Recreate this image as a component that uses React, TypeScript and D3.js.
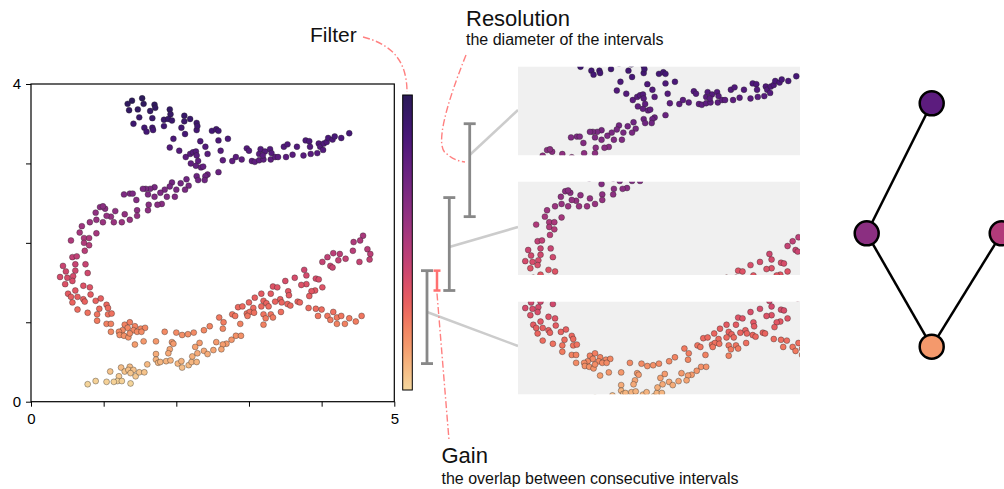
import React, { useEffect, useRef } from 'react';
import * as d3 from 'd3';

type Pt = [number, number];

// point cloud (x, y); the filter is the y value
const topLobe: Pt[] = [
  [1.39, 3.79], [1.53, 3.82], [1.33, 3.75], [1.55, 3.75], [1.7, 3.74], [1.71, 3.7], [1.35, 3.67], [1.47, 3.68],
  [1.64, 3.66], [1.91, 3.68], [1.92, 3.62], [1.49, 3.58], [1.67, 3.57], [1.83, 3.55], [1.89, 3.56], [1.94, 3.54],
  [2.11, 3.6], [2.19, 3.56], [2.11, 3.53], [2.28, 3.51], [1.41, 3.5], [1.56, 3.45], [1.59, 3.4], [1.67, 3.45],
  [1.68, 3.42], [1.83, 3.47], [2.07, 3.45], [2.28, 3.42], [2.29, 3.47], [2.12, 3.37], [1.96, 3.31], [2.33, 3.28],
  [1.91, 3.2], [2.04, 3.16], [2.4, 3.21], [2.43, 3.12], [2.13, 3.08], [2.19, 3.12], [2.23, 3.14], [2.27, 3.15],
  [2.28, 3.1], [2.3, 3.03], [2.2, 3.0], [2.27, 2.97], [2.34, 2.95], [2.37, 2.96],
];

const upperBend: Pt[] = [
  [2.43, 2.86], [2.4, 2.84], [2.28, 2.84], [2.3, 2.79], [2.39, 2.79], [2.14, 2.8], [2.06, 2.75], [1.94, 2.76],
  [2.17, 2.72], [2.12, 2.67], [2.0, 2.67], [1.91, 2.71], [1.84, 2.67], [1.78, 2.63], [1.7, 2.7], [1.64, 2.68],
  [1.58, 2.68], [1.54, 2.68], [1.61, 2.61], [1.7, 2.58], [1.87, 2.58], [1.98, 2.58], [1.36, 2.62], [1.4, 2.62],
  [1.28, 2.61], [1.45, 2.54], [1.8, 2.49], [1.74, 2.48], [1.62, 2.48], [1.61, 2.41], [1.46, 2.41], [1.46, 2.34],
  [1.36, 2.29], [1.29, 2.36], [1.25, 2.26], [1.14, 2.26], [1.16, 2.4], [1.1, 2.33], [1.04, 2.34], [1.02, 2.43],
  [0.95, 2.45], [0.99, 2.46], [0.89, 2.38], [0.9, 2.29], [0.99, 2.26], [0.81, 2.26], [0.7, 2.21], [0.67, 2.13],
  [0.9, 2.12], [0.73, 2.06], [0.8, 2.06], [0.55, 2.03],
];

const rightArm: Pt[] = [
  [2.49, 3.41], [2.55, 3.43], [2.58, 3.41], [2.71, 3.31], [2.58, 3.29], [2.61, 3.16], [2.64, 3.04], [2.58, 2.89],
  [2.77, 3.03], [2.82, 3.08], [2.9, 3.05], [2.97, 3.19], [3.0, 3.16], [3.04, 3.03], [3.08, 3.02], [3.14, 3.04],
  [3.2, 3.05], [3.14, 3.12], [3.16, 3.18], [3.22, 3.15], [3.19, 3.1], [3.29, 3.18], [3.31, 3.13], [3.3, 3.05],
  [3.36, 3.08], [3.4, 3.08], [3.48, 3.21], [3.53, 3.24], [3.51, 3.08], [3.6, 3.11], [3.66, 3.21], [3.75, 3.1],
  [3.78, 3.29], [3.83, 3.28], [3.84, 3.21], [3.85, 3.12], [3.94, 3.13], [3.96, 3.25], [3.98, 3.21], [4.02, 3.17],
  [4.03, 3.25], [4.07, 3.27], [4.09, 3.32], [4.15, 3.3], [4.18, 3.34], [4.27, 3.32], [4.38, 3.38],
];

const leftBend: Pt[] = [
  [0.73, 2.0], [0.8, 1.97], [0.74, 1.9], [0.57, 1.82], [0.63, 1.83], [0.44, 1.71], [0.61, 1.73], [0.75, 1.73],
  [0.48, 1.64], [0.61, 1.65], [0.78, 1.62], [0.4, 1.57], [0.5, 1.56], [0.58, 1.58], [0.57, 1.52], [0.47, 1.48],
  [0.72, 1.46], [0.81, 1.44], [0.61, 1.4], [0.51, 1.36], [0.55, 1.32], [0.64, 1.32], [0.72, 1.29], [0.74, 1.26],
  [0.82, 1.35], [0.57, 1.25], [0.89, 1.27], [0.96, 1.3], [0.64, 1.16], [0.78, 1.12], [0.94, 1.17], [1.04, 1.22],
  [1.06, 1.18], [0.91, 1.1], [1.06, 1.1], [1.11, 1.11], [0.91, 1.02], [1.04, 0.98], [1.1, 0.98],
];

const bottomBend: Pt[] = [
  [1.29, 0.97], [1.36, 1.0], [1.33, 0.93], [1.43, 0.95], [1.41, 0.9], [1.51, 0.92], [1.57, 0.93], [1.26, 0.9],
  [1.21, 0.88], [1.1, 0.88], [1.22, 0.84], [1.28, 0.83], [1.34, 0.81], [1.36, 0.86], [1.46, 0.88], [1.52, 0.88],
  [1.43, 0.72], [1.55, 0.76], [1.72, 0.76], [1.84, 0.88], [2.0, 0.87], [2.08, 0.84], [2.16, 0.85], [2.24, 0.87],
  [2.38, 0.9], [1.94, 0.75], [1.96, 0.73], [1.91, 0.66], [1.89, 0.61], [1.72, 0.6], [1.72, 0.53], [1.75, 0.49],
  [1.78, 0.5], [1.86, 0.51], [1.92, 0.52], [2.02, 0.48], [2.07, 0.51], [2.08, 0.43], [2.17, 0.46], [2.21, 0.5],
  [2.28, 0.5], [2.22, 0.57], [2.26, 0.69], [2.32, 0.74], [2.29, 0.61], [2.38, 0.64], [2.43, 0.6], [1.6, 0.47],
  [1.36, 0.44], [1.24, 0.43], [1.29, 0.38], [1.34, 0.4], [1.41, 0.4], [1.37, 0.36], [1.44, 0.32], [1.49, 0.37],
  [1.56, 0.37], [1.09, 0.38], [1.21, 0.32], [1.19, 0.26], [1.25, 0.26], [1.14, 0.25], [1.04, 0.25], [0.89, 0.26],
  [0.78, 0.22], [1.37, 0.23],
];

const lowerArm: Pt[] = [
  [4.57, 2.09], [4.53, 2.03], [4.44, 2.01], [4.43, 1.9], [4.63, 1.92], [4.67, 1.86], [4.66, 1.79], [4.52, 1.76],
  [4.33, 1.8], [4.25, 1.86], [4.23, 1.78], [4.16, 1.87], [4.08, 1.82], [4.01, 1.76], [4.12, 1.71], [4.15, 1.69],
  [3.76, 1.66], [3.79, 1.59], [3.63, 1.56], [3.92, 1.55], [3.96, 1.54], [3.5, 1.52], [3.79, 1.48], [3.72, 1.47],
  [4.01, 1.44], [3.33, 1.45], [3.39, 1.44], [3.54, 1.39], [3.91, 1.4], [3.86, 1.39], [3.17, 1.36], [3.3, 1.36],
  [3.55, 1.34], [3.83, 1.33], [3.08, 1.31], [3.43, 1.29], [3.0, 1.25], [3.2, 1.27], [3.24, 1.24], [3.36, 1.26],
  [3.45, 1.25], [3.53, 1.23], [3.67, 1.26], [3.7, 1.25], [3.57, 1.21], [2.85, 1.19], [2.91, 1.2], [3.06, 1.18],
  [3.17, 1.2], [3.27, 1.2], [2.97, 1.11], [3.01, 1.13], [3.07, 1.12], [3.2, 1.1], [3.3, 1.1], [3.44, 1.13],
  [3.33, 1.06], [3.23, 1.05], [2.98, 1.08], [2.77, 1.1], [2.81, 1.08], [2.88, 0.98], [3.2, 0.97], [2.59, 1.06],
  [2.65, 1.0], [2.64, 0.92], [2.46, 0.95], [2.82, 0.83], [2.89, 0.83], [2.76, 0.78], [2.69, 0.73], [2.64, 0.72],
  [2.55, 0.75], [2.62, 0.66], [2.51, 0.65],
];

const flatBranch: Pt[] = [
  [3.82, 1.18], [3.92, 1.17], [4.0, 1.16], [3.95, 1.08], [4.08, 1.08], [4.16, 1.13], [4.12, 1.03], [4.21, 1.06],
  [4.27, 1.08], [4.21, 0.98], [4.32, 0.98], [4.38, 1.05], [4.47, 1.01], [4.55, 1.08],
];

const points: Pt[] = [...topLobe, ...upperBend, ...rightArm, ...leftBend, ...bottomBend, ...lowerArm, ...flatBranch];

// cover of the filter range, bottom to top
const intervals: [number, number][] = [[0.48, 1.65], [1.4, 2.57], [2.33, 3.5]];
const panelXStart = [0.3, 0.3, 0.55];
const filterDomain: [number, number] = [0.2, 3.85];

// mapper graph (value = mean filter of the node)
const nodes = [
  { id: 'top', level: 2, col: 0, value: 3.08 },
  { id: 'left', level: 1, col: -1, value: 2.43 },
  { id: 'right', level: 1, col: 1, value: 1.98 },
  { id: 'bottom', level: 0, col: 0, value: 0.75 },
];
const edges: [string, string][] = [['top', 'left'], ['left', 'bottom'], ['bottom', 'right']];

// layout
const FONT = '"Liberation Sans", Arial, sans-serif';
const PANEL_X = 518;
const PANEL_W = 282;
const panelTop = [301.7, 181.7, 66.7];
const panelHeight = [92.6, 93.3, 88.5];
const barX = [427, 449.3, 469.7];
const linkFrom = [312, 247, 155];
const linkTo = [346, 227, 110];
const levelY = [346.7, 233.3, 103.3];
const ANNOT = '#ff8080';

const MapperFigure: React.FC = () => {
  const chartRef = useRef<SVGSVGElement>(null);

  const drawChart = (): void => {
    const svg = d3.select(chartRef.current);
    svg.selectAll('*').remove();

    const xScale = d3.scaleLinear().domain([0, 5]).range([31, 394.3]);
    const yScale = d3.scaleLinear().domain([0, 4]).range([401.7, 84]);
    // colormap position: magma, light at low filter values
    const sScale = d3.scaleLinear().domain([filterDomain[1], filterDomain[0]]).range([0, 1]).clamp(true);
    const magma = (s: number) =>
      d3.interpolateRgb(d3.interpolateMagma(0.15 + 0.78 * Math.pow(s, 1.2)), '#808080')(0.07);
    const color = (v: number) => magma(sScale(v));

    const defs = svg.append('defs');

    const drawPoints = (g: d3.Selection<SVGGElement, unknown, null, undefined>) => {
      g.selectAll('circle')
        .data(points)
        .enter()
        .append('circle')
        .attr('cx', (d) => xScale(d[0]))
        .attr('cy', (d) => yScale(d[1]))
        .attr('r', 2.95)
        .attr('fill', (d) => color(d[1]))
        .attr('stroke', '#222')
        .attr('stroke-opacity', 0.6)
        .attr('stroke-width', 0.6);
    };

    // main scatter
    drawPoints(svg.append('g'));

    svg
      .append('rect')
      .attr('x', xScale(0))
      .attr('y', yScale(4))
      .attr('width', xScale(5) - xScale(0))
      .attr('height', yScale(0) - yScale(4))
      .attr('fill', 'none')
      .attr('stroke', '#000')
      .attr('stroke-width', 1.2);

    const yAxis = svg
      .append('g')
      .attr('transform', `translate(${xScale(0)},0)`)
      .call(
        d3
          .axisLeft(yScale)
          .tickValues([0, 1, 2, 3, 4])
          .tickSize(5)
          .tickPadding(5)
          .tickFormat((d) => (d === 0 || d === 4 ? String(d) : '')),
      );
    const xAxis = svg
      .append('g')
      .attr('transform', `translate(0,${yScale(0)})`)
      .call(
        d3
          .axisBottom(xScale)
          .tickValues([0, 1, 2, 3, 4, 5])
          .tickSize(5)
          .tickPadding(7)
          .tickFormat((d) => (d === 0 || d === 5 ? String(d) : '')),
      );
    [yAxis, xAxis].forEach((a) => {
      a.select('.domain').remove();
      a.attr('font-size', null).attr('font-family', null);
      a.selectAll('text').style('font-size', '15px').style('font-family', FONT).attr('fill', '#000');
      a.selectAll('line').attr('stroke', '#000');
    });

    // colorbar
    const grad = defs
      .append('linearGradient')
      .attr('id', 'cbar')
      .attr('x1', 0)
      .attr('y1', 0)
      .attr('x2', 0)
      .attr('y2', 1);
    d3.range(0, 1.0001, 0.05).forEach((s) =>
      grad.append('stop').attr('offset', s).attr('stop-color', magma(s)),
    );
    svg
      .append('rect')
      .attr('x', 402.7)
      .attr('y', 95)
      .attr('width', 9.6)
      .attr('height', 295)
      .attr('fill', 'url(#cbar)')
      .attr('stroke', '#000')
      .attr('stroke-width', 1);

    // intervals, links and zoomed panels
    intervals.forEach(([lo, hi], i) => {
      const top = panelTop[i];
      const h = panelHeight[i];
      svg
        .append('line')
        .attr('x1', barX[i])
        .attr('y1', linkFrom[i])
        .attr('x2', PANEL_X)
        .attr('y2', linkTo[i])
        .attr('stroke', '#cccccc')
        .attr('stroke-width', 2.5);

      svg
        .append('rect')
        .attr('x', PANEL_X)
        .attr('y', top)
        .attr('width', PANEL_W)
        .attr('height', h)
        .attr('fill', '#f0f0f0');
      defs
        .append('clipPath')
        .attr('id', `panel${i}`)
        .append('rect')
        .attr('x', PANEL_X)
        .attr('y', top)
        .attr('width', PANEL_W)
        .attr('height', h);
      const dx = PANEL_X - xScale(panelXStart[i]);
      const dy = top - yScale(hi);
      const inner = svg
        .append('g')
        .attr('clip-path', `url(#panel${i})`)
        .append('g')
        .attr('transform', `translate(${dx},${dy})`);
      drawPoints(inner);

      const bar = svg.append('g').attr('stroke', '#888').attr('stroke-width', 2.8);
      bar.append('line').attr('x1', barX[i]).attr('x2', barX[i]).attr('y1', yScale(hi)).attr('y2', yScale(lo));
      [lo, hi].forEach((v) =>
        bar
          .append('line')
          .attr('x1', barX[i] - 6)
          .attr('x2', barX[i] + 6)
          .attr('y1', yScale(v))
          .attr('y2', yScale(v)),
      );
    });

    // gain: overlap between the two lowest intervals
    const gainX = 437;
    const gain = svg.append('g').attr('stroke', '#ff7070').attr('stroke-width', 2.5);
    gain
      .append('line')
      .attr('x1', gainX)
      .attr('x2', gainX)
      .attr('y1', yScale(intervals[0][1]))
      .attr('y2', yScale(intervals[1][0]));
    [intervals[0][1], intervals[1][0]].forEach((v) =>
      gain
        .append('line')
        .attr('x1', gainX - 3.5)
        .attr('x2', gainX + 3.5)
        .attr('y1', yScale(v))
        .attr('y2', yScale(v)),
    );

    // annotation leaders
    const dash = '7,2.5,1.5,2.5';
    [
      'M363,37 C391,44 407,60 407,92',
      'M466,55 C446,105 434,148 447,154 C452,159 458,161 465,162',
      `M${gainX},${yScale(intervals[1][0]) + 3} L449,440`,
    ].forEach((p) =>
      svg
        .append('path')
        .attr('d', p)
        .attr('fill', 'none')
        .attr('stroke', ANNOT)
        .attr('stroke-width', 1.4)
        .attr('stroke-dasharray', dash),
    );

    const texts: [string, number, number, number][] = [
      ['Filter', 310, 42, 21],
      ['Resolution', 466, 26, 22],
      ['the diameter of the intervals', 466, 45, 16],
      ['Gain', 441.5, 463, 22],
      ['the overlap between consecutive intervals', 441.5, 484, 16],
    ];
    svg
      .selectAll('.label')
      .data(texts)
      .enter()
      .append('text')
      .attr('class', 'label')
      .attr('x', (d) => d[1])
      .attr('y', (d) => d[2])
      .attr('font-size', (d) => d[3])
      .attr('font-family', FONT)
      .attr('fill', '#111')
      .text((d) => d[0]);

    // mapper graph
    const colX = d3.scaleLinear().domain([-1, 0, 1]).range([866.7, 931.7, 1001.7]);
    const pos = new Map(nodes.map((n) => [n.id, [colX(n.col), levelY[n.level]]]));
    svg
      .append('g')
      .selectAll('line')
      .data(edges)
      .enter()
      .append('line')
      .attr('x1', (d) => pos.get(d[0])![0])
      .attr('y1', (d) => pos.get(d[0])![1])
      .attr('x2', (d) => pos.get(d[1])![0])
      .attr('y2', (d) => pos.get(d[1])![1])
      .attr('stroke', '#000')
      .attr('stroke-width', 2.5);
    svg
      .append('g')
      .selectAll('circle')
      .data(nodes)
      .enter()
      .append('circle')
      .attr('cx', (d) => pos.get(d.id)![0])
      .attr('cy', (d) => pos.get(d.id)![1])
      .attr('r', 12)
      .attr('fill', (d) => color(d.value))
      .attr('stroke', '#000')
      .attr('stroke-width', 2.5);
  };

  useEffect(() => {
    drawChart();
  });

  return (
    <svg
      ref={chartRef}
      width={1004}
      height={489}
      style={{ position: 'absolute', left: 0, top: 0, background: '#fff' }}
    ></svg>
  );
};

export default function App() {
  return <MapperFigure />;
}
